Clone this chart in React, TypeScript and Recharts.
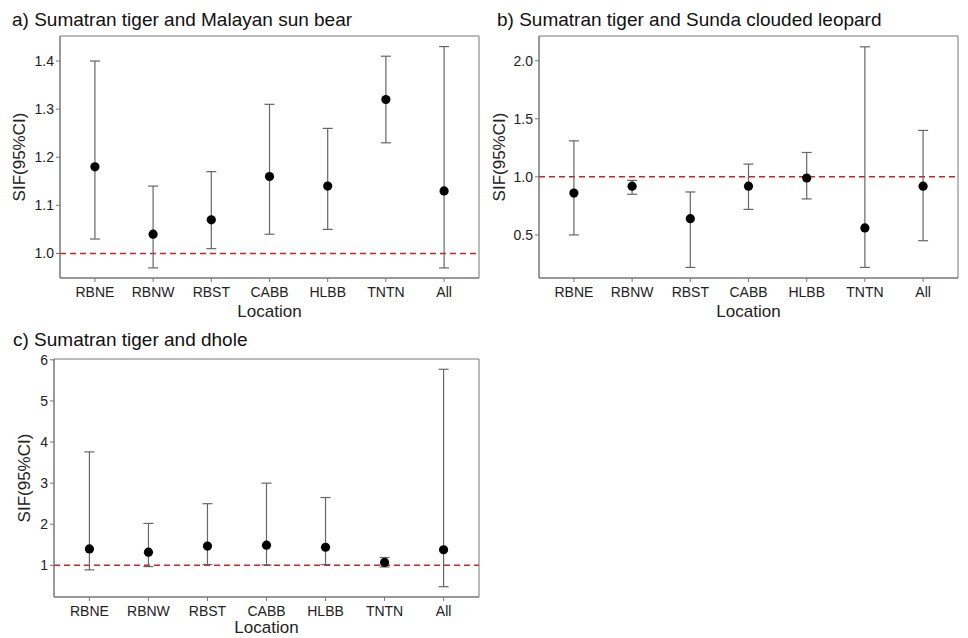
import React from "react";
import {
  ComposedChart,
  Scatter,
  ErrorBar,
  XAxis,
  YAxis,
  ReferenceLine,
  ReferenceArea,
} from "recharts";

const locations = ["RBNE", "RBNW", "RBST", "CABB", "HLBB", "TNTN", "All"];

// a) Sumatran tiger and Malayan sun bear
const sunBearSif = [1.18, 1.04, 1.07, 1.16, 1.14, 1.32, 1.13];
const sunBearLow = [1.03, 0.97, 1.01, 1.04, 1.05, 1.23, 0.97];
const sunBearHigh = [1.4, 1.14, 1.17, 1.31, 1.26, 1.41, 1.43];
const sunBearTicks = [1.0, 1.1, 1.2, 1.3, 1.4];

// b) Sumatran tiger and Sunda clouded leopard
const leopardSif = [0.86, 0.92, 0.64, 0.92, 0.99, 0.56, 0.92];
const leopardLow = [0.5, 0.85, 0.22, 0.72, 0.81, 0.22, 0.45];
const leopardHigh = [1.31, 0.97, 0.87, 1.11, 1.21, 2.12, 1.4];
const leopardTicks = [0.5, 1.0, 1.5, 2.0];

// c) Sumatran tiger and dhole
const dholeSif = [1.4, 1.32, 1.47, 1.49, 1.44, 1.07, 1.38];
const dholeLow = [0.89, 0.97, 1.02, 1.01, 1.02, 0.96, 0.48];
const dholeHigh = [3.76, 2.02, 2.5, 3.0, 2.65, 1.19, 5.77];
const dholeTicks = [1, 2, 3, 4, 5, 6];

const FONT = "'Liberation Sans', Arial, sans-serif";
const GRID = "#777";
const TEXT = "#222";
const X_DOMAIN: [number, number] = [0.4, 7.6];

function buildRows(sif: number[], low: number[], high: number[]) {
  return locations.map((name, i) => ({
    pos: i + 1,
    name,
    sif: sif[i],
    ci: [sif[i] - low[i], high[i] - sif[i]],
  }));
}

const Dot = (props: any) => {
  const { cx, cy } = props;
  if (cx == null || cy == null) return null;
  return <circle cx={cx} cy={cy} r={4.6} fill="#000" />;
};

interface PanelProps {
  title: string;
  left: number;
  top: number;
  width: number;
  height: number;
  plotLeft: number;
  plotTop: number;
  plotRight: number;
  plotBottom: number;
  rows: ReturnType<typeof buildRows>;
  domain: [number, number];
  ticks: number[];
  decimals: number;
  titleX: number;
  labelX: number;
  locationY: number;
}

function Panel(p: PanelProps) {
  const plotCx = (p.plotLeft + p.plotRight) / 2;
  const plotCy = (p.plotTop + p.plotBottom) / 2;
  return (
    <div style={{ position: "absolute", left: p.left, top: p.top, width: p.width, height: p.height }}>
      <div
        style={{
          position: "absolute",
          left: p.titleX,
          top: 9,
          fontSize: 19,
          lineHeight: "22px",
          color: "#111",
          whiteSpace: "nowrap",
        }}
      >
        {p.title}
      </div>
      <div
        style={{
          position: "absolute",
          left: p.labelX - 100,
          top: plotCy - 11,
          width: 200,
          height: 22,
          lineHeight: "22px",
          textAlign: "center",
          fontSize: 17,
          color: TEXT,
          transform: "rotate(-90deg)",
        }}
      >
        SIF(95%CI)
      </div>
      <div
        style={{
          position: "absolute",
          left: plotCx - 100,
          top: p.locationY - 10,
          width: 200,
          height: 20,
          lineHeight: "20px",
          textAlign: "center",
          fontSize: 17,
          color: TEXT,
        }}
      >
        Location
      </div>
      <div style={{ position: "absolute", left: 0, top: 0 }}>
        <ComposedChart
          width={p.width}
          height={p.height}
          data={p.rows}
          margin={{ top: p.plotTop, right: p.width - p.plotRight, left: 0, bottom: 0 }}
        >
          <XAxis
            dataKey="pos"
            type="number"
            domain={X_DOMAIN}
            ticks={[1, 2, 3, 4, 5, 6, 7]}
            tickFormatter={(v: number) => locations[v - 1]}
            height={p.height - p.plotBottom}
            stroke={GRID}
            tickSize={4}
            tickMargin={5}
            tick={{ fill: TEXT, fontSize: 14, fontFamily: FONT }}
            allowDataOverflow
          />
          <YAxis
            type="number"
            domain={p.domain}
            ticks={p.ticks}
            tickFormatter={(v: number) => v.toFixed(p.decimals)}
            width={p.plotLeft}
            stroke={GRID}
            tickSize={4}
            tickMargin={2}
            tick={{ fill: TEXT, fontSize: 14, fontFamily: FONT }}
            allowDataOverflow
          />
          <ReferenceArea
            x1={X_DOMAIN[0]}
            x2={X_DOMAIN[1]}
            y1={p.domain[0]}
            y2={p.domain[1]}
            fill="none"
            stroke={GRID}
            strokeWidth={1}
            ifOverflow="extendDomain"
          />
          <ReferenceLine y={1} stroke="#c0282d" strokeWidth={1.5} strokeDasharray="6 4" />
          <Scatter dataKey="sif" shape={<Dot />} isAnimationActive={false}>
            <ErrorBar dataKey="ci" direction="y" width={5} stroke="#666" strokeWidth={1.2} />
          </Scatter>
        </ComposedChart>
      </div>
    </div>
  );
}

export default function App() {
  return (
    <div
      style={{
        position: "fixed",
        left: 0,
        top: 0,
        width: 968,
        height: 638,
        background: "#fff",
        fontFamily: FONT,
      }}
    >
      <Panel
        title="a) Sumatran tiger and Malayan sun bear"
        left={0}
        top={0}
        width={484}
        height={320}
        plotLeft={60}
        plotTop={36}
        plotRight={479}
        plotBottom={278}
        rows={buildRows(sunBearSif, sunBearLow, sunBearHigh)}
        domain={[0.949, 1.452]}
        ticks={sunBearTicks}
        decimals={1}
        titleX={12}
        labelX={19.5}
        locationY={312}
      />
      <Panel
        title="b) Sumatran tiger and Sunda clouded leopard"
        left={484}
        top={0}
        width={484}
        height={320}
        plotLeft={55}
        plotTop={36}
        plotRight={474}
        plotBottom={278}
        rows={buildRows(leopardSif, leopardLow, leopardHigh)}
        domain={[0.129, 2.213]}
        ticks={leopardTicks}
        decimals={1}
        titleX={13}
        labelX={16}
        locationY={312}
      />
      <Panel
        title="c) Sumatran tiger and dhole"
        left={0}
        top={320}
        width={484}
        height={318}
        plotLeft={54}
        plotTop={39}
        plotRight={479}
        plotBottom={277}
        rows={buildRows(dholeSif, dholeLow, dholeHigh)}
        domain={[0.23, 6.02]}
        ticks={dholeTicks}
        decimals={0}
        titleX={13}
        labelX={25}
        locationY={308}
      />
    </div>
  );
}
